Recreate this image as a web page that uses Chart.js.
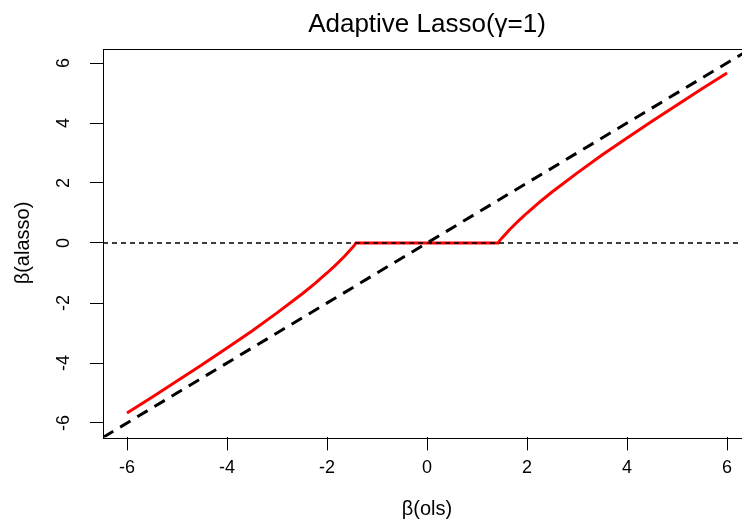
<!DOCTYPE html>
<html><head><meta charset="utf-8">
<script src="https://cdn.jsdelivr.net/npm/chart.js@4/dist/chart.umd.min.js"></script>
<style>
html,body{margin:0;padding:0;background:#fff;overflow:hidden;width:742px;height:522px}
#wrap{position:absolute;left:0;top:0;width:752px;height:522px}
</style></head><body>
<div id="wrap"><canvas id="c" width="752" height="522"></canvas></div>
<script>
const titleText = 'Adaptive Lasso(\u03B3=1)';
const xAxisTitle = '\u03B2(ols)';
const yAxisTitle = '\u03B2(alasso)';
const tickValues = [-6, -4, -2, 0, 2, 4, 6];
const axisMin = -6.48, axisMax = 6.48;

// red curve: beta(ols) vs beta(alasso)
const olsValues = [-6, -5.5, -5, -4.5, -4, -3.5, -3, -2.5, -2.25, -2, -1.85, -1.75, -1.65, -1.55, -1.5, -1.45, -1.42,
                   1.42, 1.45, 1.5, 1.55, 1.65, 1.75, 1.85, 2, 2.25, 2.5, 3, 3.5, 4, 4.5, 5, 5.5, 6];
const alassoValues = [-5.67, -5.14, -4.6, -4.06, -3.5, -2.93, -2.33, -1.7, -1.36, -1.0, -0.77, -0.61, -0.44, -0.26, -0.17, -0.07, 0,
                      0, 0.07, 0.17, 0.26, 0.44, 0.61, 0.77, 1.0, 1.36, 1.7, 2.33, 2.93, 3.5, 4.06, 4.6, 5.14, 5.67];
// reference lines
const diagX = [-6.48, 6.48], diagY = [-6.48, 6.48];
const zeroX = [-6.48, 6.48], zeroY = [0, 0];

const FONT = '"Liberation Sans", Arial, sans-serif';
const zip = (xs, ys) => xs.map((x, i) => ({x, y: ys[i]}));

const textPlugin = {
  id: 'rtext',
  afterDraw(chart) {
    const {ctx, chartArea: ca, scales} = chart;
    ctx.save();
    ctx.strokeStyle = '#000'; ctx.lineWidth = 1;
    ctx.strokeRect(Math.round(ca.left) + 0.5, Math.round(ca.top) + 0.5, Math.round(ca.right - ca.left), Math.round(ca.bottom - ca.top));
    ctx.fillStyle = '#000';
    // y tick labels, rotated
    ctx.font = '18px ' + FONT;
    ctx.textAlign = 'center'; ctx.textBaseline = 'middle';
    scales.y.ticks.forEach(t => {
      const y = scales.y.getPixelForValue(t.value);
      ctx.save(); ctx.translate(64, y); ctx.rotate(-Math.PI / 2);
      ctx.fillText(String(t.value), 0, 0); ctx.restore();
    });
    const cx = (ca.left + ca.right) / 2, cy = (ca.top + ca.bottom) / 2;
    // title
    ctx.font = '26px ' + FONT; ctx.textBaseline = 'alphabetic';
    ctx.fillText(titleText, cx, 32);
    // axis titles
    ctx.font = '20px ' + FONT; ctx.textBaseline = 'middle';
    ctx.fillText(xAxisTitle, cx, 509);
    ctx.save(); ctx.translate(23, cy); ctx.rotate(-Math.PI / 2);
    ctx.fillText(yAxisTitle, 0, 0); ctx.restore();
    ctx.restore();
  }
};

new Chart(document.getElementById('c'), {
  type: 'scatter',
  data: {
    datasets: [
      {data: zip(zeroX, zeroY), showLine: true, borderColor: '#000', borderWidth: 1.6, borderDash: [5, 4], pointRadius: 0, fill: false},
      {data: zip(diagX, diagY), showLine: true, borderColor: '#000', borderWidth: 3, borderDash: [12, 8], pointRadius: 0, fill: false},
      {data: zip(olsValues, alassoValues), showLine: true, borderColor: '#ff0000', borderWidth: 3, pointRadius: 0, fill: false, tension: 0, borderCapStyle: 'butt'}
    ]
  },
  options: {
    responsive: false, animation: false, devicePixelRatio: 1,
    layout: {padding: {top: 48.6, right: 1, left: 0, bottom: 0}},
    plugins: {legend: {display: false}, tooltip: {enabled: false}, title: {display: false}},
    scales: {
      x: {
        type: 'linear', min: axisMin, max: axisMax,
        afterBuildTicks: s => { s.ticks = tickValues.map(v => ({value: v})); },
        afterFit: s => { s.height = 522 - 437.4; },
        grid: {drawOnChartArea: false, drawTicks: true, tickLength: 13, tickColor: '#000', tickWidth: 1},
        border: {display: false},
        ticks: {font: {family: FONT, size: 18}, color: '#000', padding: 7, maxRotation: 0, autoSkip: false}
      },
      y: {
        type: 'linear', min: axisMin, max: axisMax,
        afterBuildTicks: s => { s.ticks = tickValues.map(v => ({value: v})); },
        afterFit: s => { s.width = 103; },
        grid: {drawOnChartArea: false, drawTicks: true, tickLength: 13, tickColor: '#000', tickWidth: 1},
        border: {display: false},
        ticks: {display: false}
      }
    }
  },
  plugins: [textPlugin]
});
</script>
</body></html>
